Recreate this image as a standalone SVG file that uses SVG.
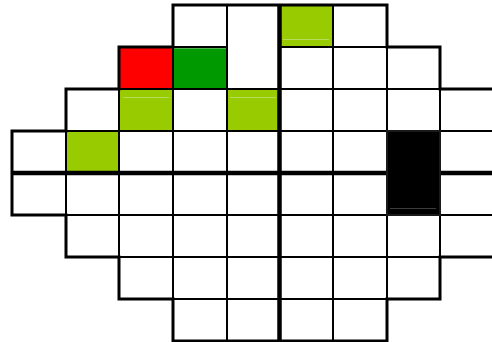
<svg xmlns="http://www.w3.org/2000/svg" width="492" height="342" viewBox="0 0 492 342">
<style>
.c{fill:#fff;stroke:#000;stroke-width:2}
.r{fill:#ff0000;stroke:#000;stroke-width:2}
.g{fill:#009900;stroke:#000;stroke-width:2}
.y{fill:#99cc00;stroke:#000;stroke-width:2}
.k{fill:#000;stroke:#1a1a1a;stroke-width:2}
.hy{stroke:#b9dc5a;stroke-width:1.2}
.hg{stroke:#4fb04f;stroke-width:1.2}
.hk{stroke:#3c3c3c;stroke-width:1.2}
.outline{fill:none;stroke:#000;stroke-width:3;stroke-linejoin:miter}
.axis{stroke:#000;stroke-width:4.5}
</style>
<rect width="492" height="342" fill="#fff"/>
<g id="cells">
<!-- row 0 -->
<g id="r0c3"><rect class="c" x="173" y="5" width="54" height="42"/></g>
<g id="r0c4"><rect class="c" x="227" y="5" width="53" height="84"/></g>
<g id="r0c5"><rect class="y" x="280" y="5" width="53" height="42"/><line class="hy" x1="283" y1="39.5" x2="329" y2="39.5"/></g>
<g id="r0c6"><rect class="c" x="333" y="5" width="54" height="42"/></g>
<!-- row 1 -->
<g id="r1c2"><rect class="r" x="119" y="47" width="54" height="42"/></g>
<g id="r1c3"><rect class="g" x="173" y="47" width="54" height="42"/><line class="hg" x1="174" y1="48.5" x2="226" y2="48.5"/></g>
<g id="r1c5"><rect class="c" x="280" y="47" width="53" height="42"/></g>
<g id="r1c6"><rect class="c" x="333" y="47" width="54" height="42"/></g>
<g id="r1c7"><rect class="c" x="387" y="47" width="53" height="42"/></g>
<!-- row 2 -->
<g id="r2c1"><rect class="c" x="66" y="89" width="53" height="42"/></g>
<g id="r2c2"><rect class="y" x="119" y="89" width="54" height="42"/><line class="hy" x1="123" y1="97.5" x2="169" y2="97.5"/></g>
<g id="r2c3"><rect class="c" x="173" y="89" width="54" height="42"/></g>
<g id="r2c4"><rect class="y" x="227" y="89" width="53" height="42"/><line class="hy" x1="230" y1="97.5" x2="276" y2="97.5"/></g>
<g id="r2c5"><rect class="c" x="280" y="89" width="53" height="42"/></g>
<g id="r2c6"><rect class="c" x="333" y="89" width="54" height="42"/></g>
<g id="r2c7"><rect class="c" x="387" y="89" width="53" height="42"/></g>
<g id="r2c8"><rect class="c" x="440" y="89" width="54" height="42"/></g>
<!-- row 3 -->
<g id="r3c0"><rect class="c" x="12" y="131" width="54" height="42"/></g>
<g id="r3c1"><rect class="y" x="66" y="131" width="53" height="42"/></g>
<g id="r3c2"><rect class="c" x="119" y="131" width="54" height="42"/></g>
<g id="r3c3"><rect class="c" x="173" y="131" width="54" height="42"/></g>
<g id="r3c4"><rect class="c" x="227" y="131" width="53" height="42"/></g>
<g id="r3c5"><rect class="c" x="280" y="131" width="53" height="42"/></g>
<g id="r3c6"><rect class="c" x="333" y="131" width="54" height="42"/></g>
<g id="r3c8"><rect class="c" x="440" y="131" width="54" height="42"/></g>
<!-- row 4 -->
<g id="r4c0"><rect class="c" x="12" y="173" width="54" height="42"/></g>
<g id="r4c1"><rect class="c" x="66" y="173" width="53" height="42"/></g>
<g id="r4c2"><rect class="c" x="119" y="173" width="54" height="42"/></g>
<g id="r4c3"><rect class="c" x="173" y="173" width="54" height="42"/></g>
<g id="r4c4"><rect class="c" x="227" y="173" width="53" height="42"/></g>
<g id="r4c5"><rect class="c" x="280" y="173" width="53" height="42"/></g>
<g id="r4c6"><rect class="c" x="333" y="173" width="54" height="42"/></g>
<g id="r4c8"><rect class="c" x="440" y="173" width="54" height="42"/></g>
<!-- row 5 -->
<g id="r5c1"><rect class="c" x="66" y="215" width="53" height="42"/></g>
<g id="r5c2"><rect class="c" x="119" y="215" width="54" height="42"/></g>
<g id="r5c3"><rect class="c" x="173" y="215" width="54" height="42"/></g>
<g id="r5c4"><rect class="c" x="227" y="215" width="53" height="42"/></g>
<g id="r5c5"><rect class="c" x="280" y="215" width="53" height="42"/></g>
<g id="r5c6"><rect class="c" x="333" y="215" width="54" height="42"/></g>
<g id="r5c7"><rect class="c" x="387" y="215" width="53" height="42"/></g>
<g id="r5c8"><rect class="c" x="440" y="215" width="54" height="42"/></g>
<!-- row 6 -->
<g id="r6c2"><rect class="c" x="119" y="257" width="54" height="42"/></g>
<g id="r6c3"><rect class="c" x="173" y="257" width="54" height="42"/></g>
<g id="r6c4"><rect class="c" x="227" y="257" width="53" height="42"/></g>
<g id="r6c5"><rect class="c" x="280" y="257" width="53" height="42"/></g>
<g id="r6c6"><rect class="c" x="333" y="257" width="54" height="42"/></g>
<g id="r6c7"><rect class="c" x="387" y="257" width="53" height="42"/></g>
<!-- row 7 -->
<g id="r7c3"><rect class="c" x="173" y="299" width="54" height="42"/></g>
<g id="r7c4"><rect class="c" x="227" y="299" width="53" height="42"/></g>
<g id="r7c5"><rect class="c" x="280" y="299" width="53" height="42"/></g>
<g id="r7c6"><rect class="c" x="333" y="299" width="54" height="42"/></g>
</g>
<g id="lines">
<line class="axis" x1="12" y1="173" x2="492" y2="173"/>
<line class="axis" x1="279.5" y1="5" x2="279.5" y2="341"/>
<path class="outline" d="M494 89H440V47H387V5H173V47H119V89H66V131H12V215H66V257H119V299H173V341H387V299H440V257H494"/>
</g>
<g id="r3c7"><rect class="k" x="387" y="131" width="53" height="84"/><line class="hk" x1="390" y1="208.5" x2="436" y2="208.5"/></g>
</svg>
